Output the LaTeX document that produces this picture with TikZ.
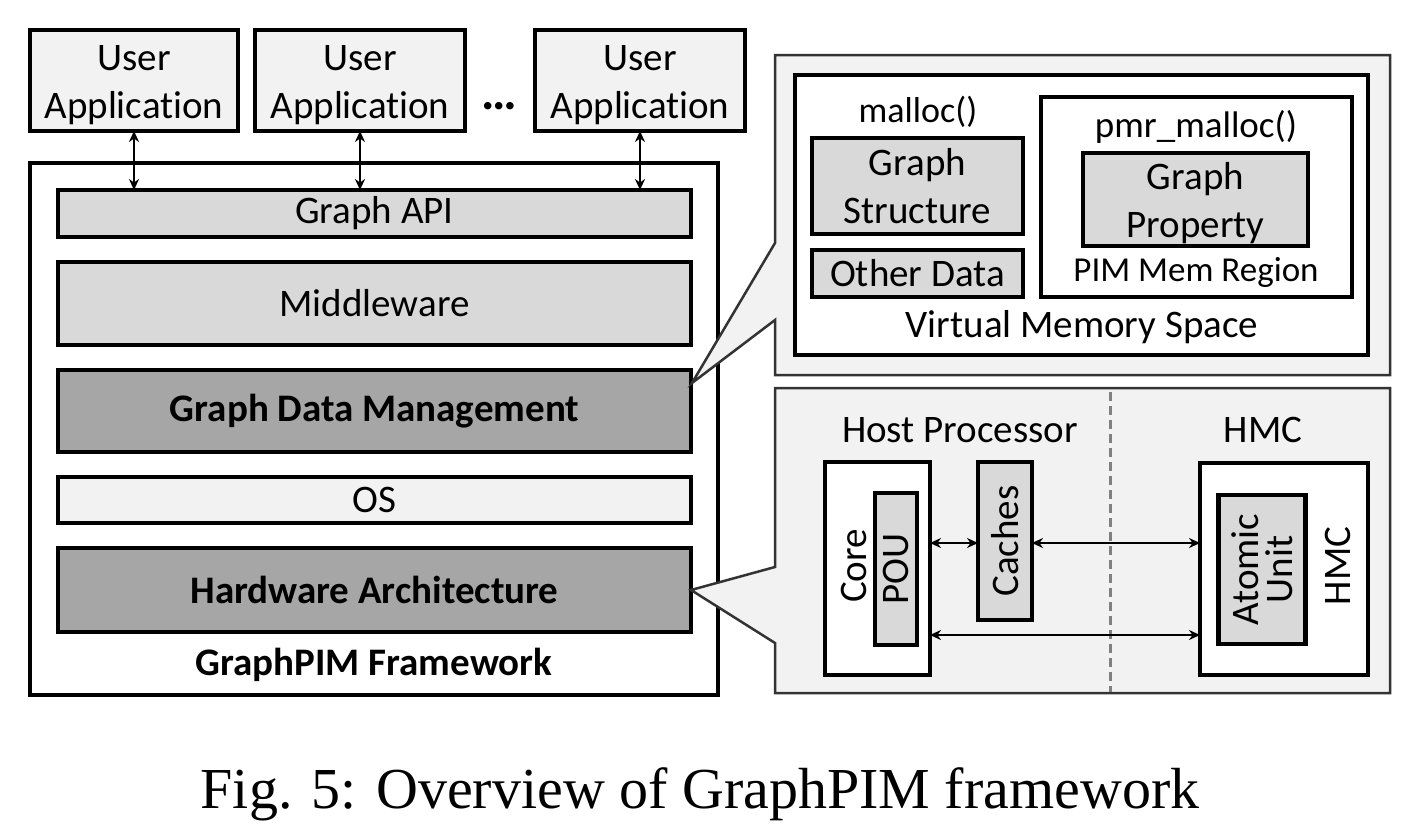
\documentclass[tikz,border=0pt]{standalone}
\usepackage{fontspec}
\setmainfont{Carlito}[Ligatures=NoCommon]
\newfontfamily\capfont{Liberation Serif}
\usetikzlibrary{arrows.meta}
\definecolor{lg}{HTML}{F2F2F2}
\definecolor{mg}{HTML}{D9D9D9}
\definecolor{dg}{HTML}{A6A6A6}
\begin{document}
\begin{tikzpicture}[x=1pt,y=-1pt,
  every node/.style={font=\fontsize{39}{48}\selectfont},
  box/.style={draw, line width=4.5pt, inner sep=0pt, outer sep=0pt, align=center},
  twoline/.style={align=center, inner sep=0pt},
  boldtxt/.style={font=\bfseries\fontsize{39}{48}\selectfont},
  dbl/.style={{Stealth[length=11pt,width=10pt]}-{Stealth[length=11pt,width=10pt]}, line width=2.5pt},
  callout/.style={fill=lg, draw=black!80, line width=2.5pt, line join=miter}]
\path[use as bounding box] (0,0) rectangle (1410,828);

% ---------- left: framework ----------
\node[box, fill=lg, minimum width=208pt, minimum height=101pt] (ua1) at (134,80.5) {};
\node[twoline] (ua1t) at (134,85) {User\\Application};
\node[box, fill=lg, minimum width=210pt, minimum height=101pt] (ua2) at (360,80.5) {};
\node[twoline] (ua2t) at (360,85) {User\\Application};
\node[box, fill=lg, minimum width=210pt, minimum height=101pt] (ua3) at (640,80.5) {};
\node[twoline] (ua3t) at (640,85) {User\\Application};
\node[font=\bfseries\fontsize{50}{56}\selectfont] (dots) at (499,106) {…};

\node[box, fill=white, minimum width=688pt, minimum height=532pt] (fw) at (374,429) {};
\node[box, fill=mg, minimum width=633pt, minimum height=47pt] (api) at (374.5,213.5) {Graph API};
\node[box, fill=mg, minimum width=633pt, minimum height=83pt] (mid) at (374.5,303.5) {Middleware};
\node[box, boldtxt, fill=dg, minimum width=633pt, minimum height=82pt] (gdm) at (374.5,411) {Graph Data Management};
\node[box, fill=lg, minimum width=633pt, minimum height=46pt] (os) at (374.5,500) {OS};
\node[box, boldtxt, fill=dg, minimum width=633pt, minimum height=84pt] (hw) at (374.5,590) {Hardware Architecture};
\node[boldtxt] (fwlabel) at (374,665) {GraphPIM Framework};

\draw[dbl] (ua1.south) -- (ua1.south |- api.north);
\draw[dbl] (ua2.south) -- (ua2.south |- api.north);
\draw[dbl] (ua3.south) -- (ua3.south |- api.north);

% ---------- top-right callout ----------
\coordinate (tip1) at (692,383);
\draw[callout] (775,55) -- (1390,55) -- (1390,375) -- (775,375) -- (775,320) -- (tip1) -- (775,243) -- cycle;
\node[box, fill=white, minimum width=573pt, minimum height=280pt] (vms) at (1081.5,215) {};
\node[font=\fontsize{36}{44}\selectfont] (malloc) at (918,112) {malloc()};
\node[box, fill=mg, minimum width=211pt, minimum height=96pt] (gs) at (917.5,186) {Graph\\Structure};
\node[box, fill=mg, minimum width=211pt, minimum height=47pt] (od) at (917.5,273.5) {Other Data};
\node[box, fill=white, minimum width=311pt, minimum height=200pt] (pim) at (1196.5,197) {};
\node[font=\fontsize{37}{44}\selectfont] (pmr) at (1196,127) {pmr\_malloc()};
\node[box, fill=mg, minimum width=225pt, minimum height=93pt] (gp) at (1195.5,199.5) {};
\node[twoline] (gpt) at (1195.5,203) {Graph\\Property};
\node[font=\fontsize{35}{44}\selectfont] (pimlabel) at (1196,272) {PIM Mem Region};
\node (vmslabel) at (1082,327) {Virtual Memory Space};

% ---------- bottom-right callout ----------
\draw[callout] (775,388) -- (1390,388) -- (1390,693) -- (775,693) -- (775,643) -- (hw.east) -- (775,567) -- cycle;
\draw[gray, line width=3pt, dash pattern=on 9pt off 5pt] (1110,392) -- (1110,692);
\node (host) at (960,430) {Host Processor};
\node (hmct) at (1263,430) {HMC};
\node[box, fill=white, minimum width=105pt, minimum height=213pt] (core) at (877.5,568.5) {};
\node[rotate=90] (corelabel) at (854,566) {Core};
\node[box, rotate=90, fill=mg, minimum width=152pt, minimum height=42pt] (pou) at (896,569) {POU};
\node[box, rotate=90, fill=mg, minimum width=158pt, minimum height=54pt] (caches) at (1005,541) {Caches};
\node[box, fill=white, minimum width=168pt, minimum height=212pt] (hmc) at (1284,569) {};
\node[box, rotate=90, fill=mg, minimum width=149pt, minimum height=87pt, font=\fontsize{39}{34}\selectfont] (au) at (1262,569.5) {Atomic\\Unit};
\node[rotate=90] (hmclabel) at (1338,566) {HMC};

\draw[dbl] (core.east |- 0,543) -- (caches.north |- 0,543);
\draw[dbl] (caches.south |- 0,543) -- (hmc.west |- 0,543);
\draw[dbl] (core.east |- 0,635) -- (hmc.west |- 0,635);

% ---------- caption ----------
\node[anchor=base, font=\capfont\fontsize{58}{70}\selectfont] (cap) at (700,808) {Fig. 5: Overview of GraphPIM framework};
\end{tikzpicture}
\end{document}
